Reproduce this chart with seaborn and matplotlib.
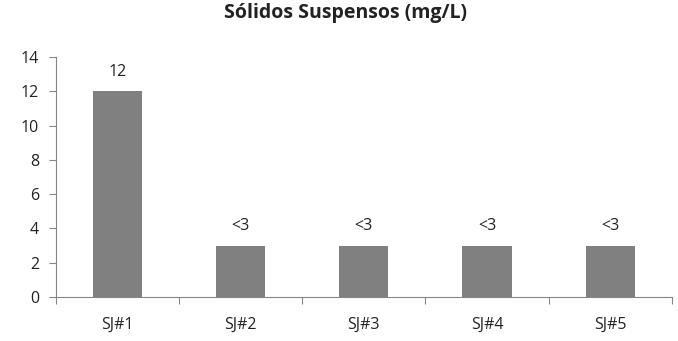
import matplotlib
matplotlib.use("Agg")
import matplotlib.pyplot as plt
import seaborn as sns
import pandas as pd
import numpy as np

# Sample points and suspended solids concentration (mg/L)
sites = ["SJ#1", "SJ#2", "SJ#3", "SJ#4", "SJ#5"]
values = [12, 3, 3, 3, 3]
value_labels = ["12", "<3", "<3", "<3", "<3"]
yticks = [0, 2, 4, 6, 8, 10, 12, 14]

sns.set_style("white")
plt.rcParams["font.family"] = ["Open Sans", "DejaVu Sans"]

df = pd.DataFrame({"site": sites, "value": values})

fig = plt.figure(figsize=(6.78, 3.41), dpi=100)
ax = fig.add_axes([0.082, 0.129, 0.909, 0.704])

sns.barplot(data=df, x="site", y="value", color="#808080", saturation=1,
            width=0.4, ax=ax, edgecolor="none")

ax.bar_label(ax.containers[0], labels=value_labels, padding=8, fontsize=11.5,
             color="#222222")

ax.set_ylim(0, 14)
ax.set_yticks(yticks)
ax.set_xlim(-0.5, len(sites) - 0.5)
ax.set_xlabel("")
ax.set_ylabel("")

# Category boundary ticks on the x axis
ax.set_xticks(np.arange(-0.5, len(sites), 1.0), minor=True)
ax.tick_params(axis="x", which="major", length=0, pad=14, labelsize=11.5,
               labelcolor="#222222")
ax.tick_params(axis="x", which="minor", length=5, width=0.8, color="#868686",
               direction="out", bottom=True)
ax.tick_params(axis="y", which="major", length=5, width=0.8, color="#868686",
               direction="out", left=True, pad=7, labelsize=11.5,
               labelcolor="#222222")

for side in ["top", "right"]:
    ax.spines[side].set_visible(False)
for side in ["left", "bottom"]:
    ax.spines[side].set_color("#868686")
    ax.spines[side].set_linewidth(0.8)

fig.suptitle("Sólidos Suspensos (mg/L)", x=0.51, y=0.99, fontsize=14,
             fontweight="bold", color="#222222")

fig.savefig("out.png", dpi=100)
